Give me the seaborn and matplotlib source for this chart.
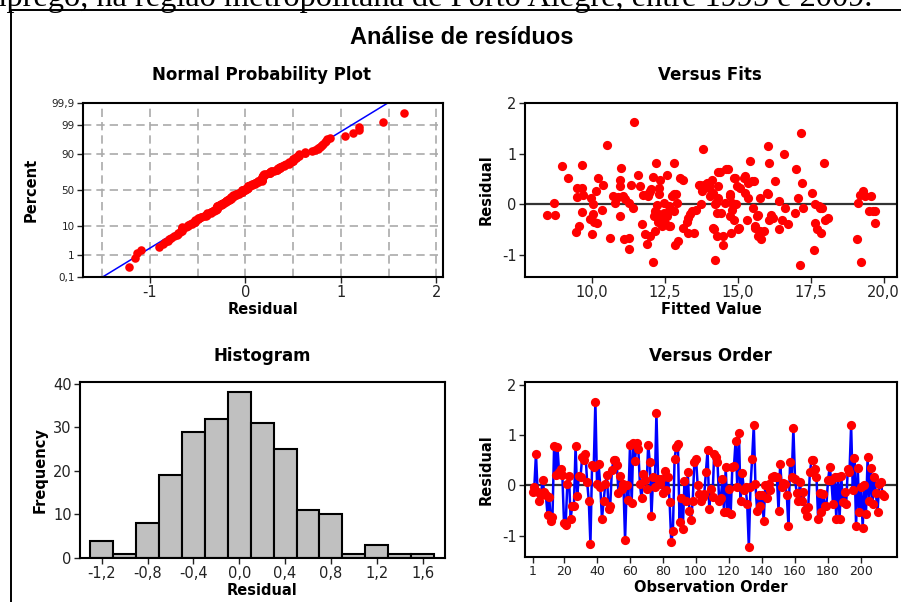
import numpy as np
import pandas as pd
import matplotlib
matplotlib.use("Agg")
import matplotlib.pyplot as plt
import seaborn as sns
from statistics import NormalDist
from matplotlib.lines import Line2D

# ---------------- data ----------------
residuals_in_order = [
    -0.13, -0.03, 0.63, -0.13, -0.31, -0.20, 0.10, -0.13, -0.19, -0.58,
    -0.23, -0.70, -0.62, 0.79, 0.20, 0.76, 0.27, 0.33, 0.20, -0.75,
    -0.78, 0.03, 0.19, -0.66, -0.40, -0.41, 0.78, -0.21, 0.19, 0.17,
    0.56, 0.50, 0.63, 0.07, -0.30, -1.16, 0.40, 0.36, 1.66, 0.03,
    0.42, -0.03, -0.66, -0.31, 0.03, 0.20, -0.46, -0.40, 0.30, 0.50,
    0.50, 0.40, -0.15, 0.19, -0.07, 0.03, -1.09, 0.00, -0.28, 0.80,
    -0.34, 0.84, 0.48, 0.85, 0.73, 0.02, -0.26, 0.22, 0.10, -0.07,
    0.81, 0.46, -0.60, 0.17, -0.03, 1.44, 0.13, 0.02, 0.13, -0.15,
    0.28, -0.10, 0.17, -0.33, -1.13, -0.90, 0.53, 0.76, 0.83, -0.72,
    -0.26, -0.86, 0.08, -0.30, 0.26, -0.50, -0.68, -0.30, 0.46, 0.53,
    0.00, -0.17, -0.30, -0.23, -0.17, 0.26, 0.70, -0.46, -0.07, -0.23,
    0.63, 0.56, 0.46, -0.30, -0.26, 0.13, -0.53, 0.36, -0.53, -0.07,
    -0.56, 0.36, 0.38, 0.89, -0.03, 1.04, -0.30, 0.25, -0.10, -0.03,
    -0.36, -1.22, -0.03, 0.53, 1.19, 0.03, -0.50, -0.20, -0.40, -0.20,
    -0.70, 0.00, -0.26, 0.03, -0.10, 0.17, 0.19, 0.17, 0.17, -0.50,
    0.43, -0.03, 0.05, 0.03, -0.19, -0.80, 0.46, 0.17, 1.13, 0.13,
    -0.15, -0.30, 0.07, -0.30, -0.13, -0.48, -0.60, -0.43, 0.26, 0.50,
    0.50, 0.33, 0.17, -0.66, -0.15, -0.53, -0.17, -0.41, -0.40, 0.10,
    0.36, 0.10, -0.36, 0.17, -0.66, 0.17, -0.66, 0.19, -0.33, -0.13,
    -0.36, 0.33, 0.26, 1.19, -0.10, 0.55, -0.81, 0.34, -0.53, -0.03,
    -0.84, 0.00, -0.56, 0.56, -0.30, 0.34, -0.36, 0.17, -0.15, -0.53,
    0.03, 0.07, -0.17, -0.21,
]

fits_fitted = [
    8.46, 8.71, 8.75, 8.97, 9.18, 9.46, 9.49, 9.49, 9.55, 9.65,
    9.67, 9.68, 9.71, 9.94, 9.98, 10.00, 10.03, 10.03, 10.08, 10.15,
    10.17, 10.21, 10.34, 10.40, 10.51, 10.63, 10.74, 10.80, 10.91, 10.95,
    10.97, 10.97, 11.00, 11.06, 11.12, 11.14, 11.26, 11.28, 11.29, 11.34,
    11.41, 11.43, 11.60, 11.66, 11.71, 11.77, 11.83, 11.89, 11.92, 11.95,
    12.00, 12.03, 12.08, 12.09, 12.14, 12.17, 12.19, 12.23, 12.23, 12.26,
    12.29, 12.34, 12.37, 12.40, 12.46, 12.48, 12.51, 12.57, 12.59, 12.63,
    12.69, 12.74, 12.80, 12.83, 12.86, 12.89, 12.91, 12.97, 13.03, 13.11,
    13.14, 13.26, 13.29, 13.35, 13.43, 13.49, 13.58, 13.66, 13.74, 13.77,
    13.81, 13.85, 13.94, 14.03, 14.06, 14.11, 14.17, 14.19, 14.23, 14.25,
    14.29, 14.29, 14.32, 14.34, 14.40, 14.43, 14.49, 14.51, 14.57, 14.61,
    14.66, 14.72, 14.74, 14.77, 14.80, 14.86, 14.88, 14.95, 14.97, 15.01,
    15.09, 15.20, 15.26, 15.31, 15.35, 15.43, 15.49, 15.54, 15.57, 15.60,
    15.66, 15.69, 15.75, 15.79, 15.89, 16.00, 16.03, 16.06, 16.09, 16.14,
    16.21, 16.29, 16.40, 16.42, 16.51, 16.57, 16.63, 16.74, 16.97, 17.00,
    17.06, 17.12, 17.17, 17.22, 17.23, 17.54, 17.62, 17.66, 17.66, 17.71,
    17.77, 17.83, 17.86, 17.90, 17.97, 18.00, 18.08, 19.09, 19.14, 19.20,
    19.22, 19.31, 19.37, 19.49, 19.57, 19.63, 19.71, 19.71,
    12.00, 11.94, 12.29, 12.17, 12.29, 12.46, 12.63, 12.69, 12.80, 13.31,
    13.71, 14.00, 14.11, 14.23, 14.17, 14.34, 14.74, 14.80, 14.91, 15.03,
    15.26, 15.37, 15.60, 15.77, 15.71, 16.03,
]
fits_residual = [
    -0.21, 0.03, -0.21, 0.76, 0.53, -0.54, 0.14, 0.33, -0.43, -0.15,
    0.77, 0.33, 0.18, -0.28, 0.13, -0.58, 0.00, -0.18, -0.35, 0.26,
    -0.36, 0.53, -0.11, 0.39, 1.18, -0.67, 0.16, 0.03, 0.15, -0.23,
    0.49, 0.36, 0.72, 0.16, -0.69, 0.10, 0.03, -0.66, -0.87, 0.38,
    -0.07, 1.63, 0.59, 0.36, -0.38, 0.18, -0.58, -0.78, 0.16, 0.23,
    -0.63, 0.30, 0.55, -1.14, -0.23, -0.53, 0.81, -0.01, -0.16, -0.35,
    0.33, 0.49, -0.24, -0.43, 0.03, -0.16, -0.36, 0.59, -0.23, -0.03,
    -0.43, 0.16, -0.13, 0.82, -0.79, 0.20, 0.03, -0.72, 0.53, 0.49,
    -0.46, -0.35, -0.56, -0.18, -0.13, -0.56, -0.10, 0.38, 0.00, 0.26,
    1.10, 0.38, 0.43, 0.33, 0.16, 0.49, 0.23, -0.49, -1.09, 0.03,
    -0.16, -0.63, 0.36, 0.13, 0.63, -0.16, -0.63, -0.79, 0.03, 0.69,
    0.69, 0.16, -0.23, -0.56, 0.03, 0.53, -0.30, 0.00, 0.36, -0.49,
    0.33, 0.53, 0.23, -0.30, 0.13, 0.86, 0.46, -0.07, 0.46, -0.46,
    -0.23, -0.63, 0.13, -0.69, -0.53, 0.23, 1.15, -0.30, 0.82, -0.20,
    -0.26, 0.46, 0.07, -0.49, -0.30, 1.00, -0.07, -0.39, -0.16, 0.69,
    0.13, -1.20, 1.41, 0.43, -0.07, 0.23, -0.89, -0.36, 0.01, -0.49,
    -0.03, -0.07, -0.57, -0.07, 0.82, -0.30, -0.26, -0.69, 0.03, 0.18,
    -1.14, 0.26, 0.16, -0.13, 0.16, -0.13, -0.36, -0.13,
    0.26, 0.20, 0.20, -0.13, -0.23, -0.26, -0.43, -0.10, 0.20, -0.26,
    0.39, 0.39, 0.20, 0.00, -0.46, 0.63, 0.20, -0.10, 0.53, -0.46,
    0.56, 0.43, -0.43, -0.53, -0.20, 0.20,
]

hist_bin_centers = [-1.2, -1.0, -0.8, -0.6, -0.4, -0.2, 0.0, 0.2, 0.4, 0.6, 0.8, 1.0, 1.2, 1.4, 1.6]
hist_counts = [4, 1, 8, 19, 29, 32, 38, 31, 25, 11, 10, 1, 3, 1, 1]

prob_tick_percents = [0.1, 1, 10, 50, 90, 99, 99.9]
prob_tick_labels = ["0,1", "1", "10", "50", "90", "99", "99,9"]
prob_grid_percents = [1, 10, 50, 90, 99]

fits_ticks = [10.0, 12.5, 15.0, 17.5, 20.0]
order_ticks = [1, 20, 40, 60, 80, 100, 120, 140, 160, 180, 200]
hist_ticks = [-1.2, -0.8, -0.4, 0.0, 0.4, 0.8, 1.2, 1.6]

doc_line = "emprego, na região metropolitana de Porto Alegre, entre 1995 e 2009."
main_title = "Análise de resíduos"

# ---------------- style ----------------
sns.set_theme(style="white")
plt.rcParams["font.family"] = ["DejaVu Sans"]
plt.rcParams["text.color"] = "black"
plt.rcParams["axes.labelcolor"] = "black"
plt.rcParams["axes.edgecolor"] = "black"
plt.rcParams["axes.linewidth"] = 1.4
plt.rcParams["xtick.color"] = "#222222"
plt.rcParams["ytick.color"] = "#222222"

W, H = 901, 602
fig = plt.figure(figsize=(W / 100, H / 100), dpi=100)
fig.patch.set_facecolor("white")


def px_axes(left, top, right, bottom):
    return fig.add_axes([left / W, 1 - bottom / H, (right - left) / W, (bottom - top) / H])


def fmt_comma(v, nd):
    return f"{v:.{nd}f}".replace(".", ",")


# (cut-off) document text and the outer frame of the figure image
fig.text(872 / W, 1 - 6 / H, doc_line, ha="right", va="baseline", fontsize=23.3,
         family=["Liberation Serif", "DejaVu Serif"], color="black", zorder=1)
frame_top = 1 - 10 / H
frame_left = 10.7 / W
fig.add_artist(Line2D([frame_left, 1.0], [frame_top, frame_top], transform=fig.transFigure,
                      color="black", lw=1.4, zorder=10))
fig.add_artist(Line2D([frame_left, frame_left], [0.0, frame_top], transform=fig.transFigure,
                      color="black", lw=1.4, zorder=10))
fig.text(462 / W, 1 - 37 / H, main_title, ha="center", va="center", fontsize=17,
         fontweight="bold", family=["Liberation Sans", "DejaVu Sans"])

title_kw = dict(ha="center", va="center", fontsize=12, fontweight="bold", color="black")
label_kw = dict(fontsize=10.5, fontweight="bold", color="black")

def style_ax(ax):
    for s in ax.spines.values():
        s.set_visible(True)
        s.set_color("black")
        s.set_linewidth(1.5)
    ax.tick_params(axis="both", which="both", direction="out", length=4, width=1,
                   labelsize=10.5, bottom=True, left=True, top=False, right=False, pad=2)

nd = NormalDist()

# ---------------- Normal probability plot ----------------
ax1 = px_axes(83, 103, 443, 277)
res_sorted = np.sort(np.array(residuals_in_order))
n = len(res_sorted)
pp = (np.arange(1, n + 1) - 0.3) / (n + 0.4)
zz = np.array([nd.inv_cdf(p) for p in pp])
mu, sd = res_sorted.mean(), res_sorted.std(ddof=1)
zlo, zhi = nd.inv_cdf(0.001), nd.inv_cdf(0.999)
for g in prob_grid_percents:
    ax1.axhline(nd.inv_cdf(g / 100), color="#AAAAAA", lw=1.2, ls=(0, (5, 3)), zorder=0)
for gx in np.arange(-1.5, 2.01, 0.5):
    ax1.axvline(gx, color="#AAAAAA", lw=1.2, ls=(0, (5, 3)), zorder=0)
zline = np.linspace(zlo, zhi, 50)
sns.lineplot(x=mu + sd * zline, y=zline, ax=ax1, color="blue", lw=1.1, zorder=2)
sns.scatterplot(x=res_sorted, y=zz, ax=ax1, color="red", s=38, edgecolor="red",
                linewidth=0, zorder=3)
ax1.set_ylim(zlo, zhi)
ax1.set_xlim(-1.70, 2.07)
ax1.set_yticks([nd.inv_cdf(p / 100) for p in prob_tick_percents])
ax1.set_yticklabels(prob_tick_labels)
ax1.set_xticks([-1, 0, 1, 2])
ax1.set_xticklabels(["-1", "0", "1", "2"])
style_ax(ax1)
ax1.tick_params(axis="y", labelsize=7.5)
ax1.set_xlabel("Residual", labelpad=1, **label_kw)
ax1.set_ylabel("Percent", labelpad=9, **label_kw)
fig.text(262 / W, 1 - 75 / H, "Normal Probability Plot", **title_kw)

# ---------------- Versus Fits ----------------
ax2 = px_axes(525, 103, 897, 277)
ax2.axhline(0, color="#333333", lw=1.6, zorder=1)
sns.scatterplot(x=fits_fitted, y=fits_residual, ax=ax2, color="red", s=44,
                edgecolor="red", linewidth=0, zorder=3)
ax2.set_xlim(7.71, 20.46)
ax2.set_ylim(-1.43, 2.0)
ax2.set_xticks(fits_ticks)
ax2.set_xticklabels([fmt_comma(v, 1) for v in fits_ticks])
ax2.set_yticks([-1, 0, 1, 2])
ax2.set_yticklabels(["-1", "0", "1", "2"])
style_ax(ax2)
ax2.set_xlabel("Fitted Value", labelpad=1, **label_kw)
ax2.set_ylabel("Residual", labelpad=6, **label_kw)
fig.text(710 / W, 1 - 75 / H, "Versus Fits", **title_kw)

# ---------------- Histogram ----------------
ax3 = px_axes(80, 382, 445, 558)
bin_w = hist_bin_centers[1] - hist_bin_centers[0]
hist_df = pd.DataFrame({"center": hist_bin_centers, "count": hist_counts})
sns.histplot(data=hist_df, x="center", weights="count", binwidth=bin_w,
             binrange=(hist_bin_centers[0] - bin_w / 2, hist_bin_centers[-1] + bin_w / 2),
             ax=ax3, color="#C0C0C0", edgecolor="black", linewidth=1.5, alpha=1)
ax3.set_xlim(-1.389, 1.795)
ax3.set_ylim(0, 40.4)
ax3.set_xticks(hist_ticks)
ax3.set_xticklabels([fmt_comma(v, 1) for v in hist_ticks])
ax3.set_yticks([0, 10, 20, 30, 40])
style_ax(ax3)
ax3.set_xlabel("Residual", labelpad=1, **label_kw)
ax3.set_ylabel("Frequency", labelpad=4, **label_kw)
fig.text(262 / W, 1 - 356 / H, "Histogram", **title_kw)

# ---------------- Versus Order ----------------
ax4 = px_axes(525, 382, 897, 557)
order = np.arange(1, len(residuals_in_order) + 1)
ax4.axhline(0, color="#333333", lw=1.6, zorder=1)
sns.lineplot(x=order, y=residuals_in_order, ax=ax4, color="blue", lw=1.8, zorder=2)
sns.scatterplot(x=order, y=residuals_in_order, ax=ax4, color="red", s=44,
                edgecolor="red", linewidth=0, zorder=3)
ax4.set_xlim(-3.65, 221.8)
ax4.set_ylim(-1.42, 2.05)
ax4.set_xticks(order_ticks)
ax4.set_yticks([-1, 0, 1, 2])
ax4.set_yticklabels(["-1", "0", "1", "2"])
style_ax(ax4)
ax4.tick_params(axis="x", labelsize=9)
ax4.set_xlabel("Observation Order", labelpad=1, **label_kw)
ax4.set_ylabel("Residual", labelpad=6, **label_kw)
fig.text(710 / W, 1 - 356 / H, "Versus Order", **title_kw)

fig.savefig("out.png", dpi=100)
